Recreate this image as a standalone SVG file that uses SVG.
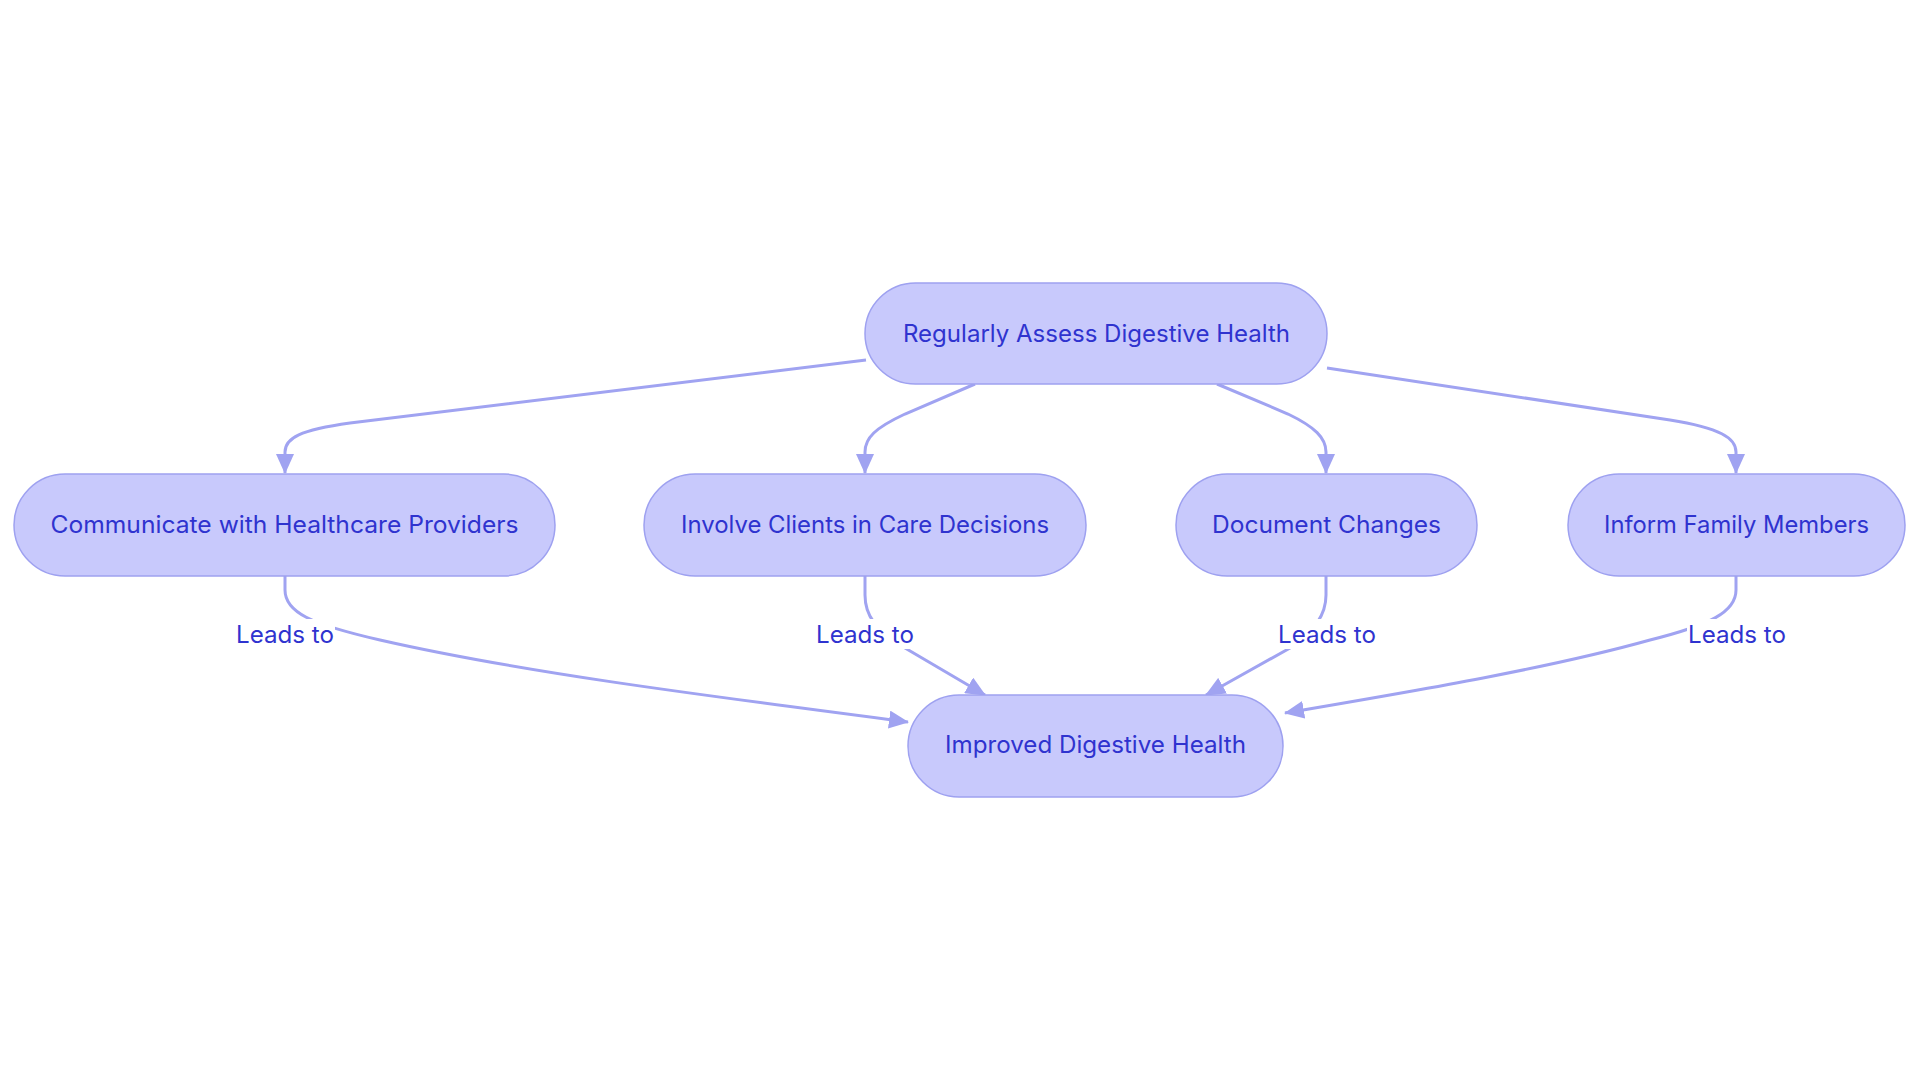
<svg xmlns="http://www.w3.org/2000/svg" width="1920" height="1083" viewBox="0 0 1920 1083">
<style>
.node rect{fill:#c8c9fc;stroke:#9ea1f0;stroke-width:1.5}
.node text,.lbl text{font-family:Inter,"Noto Sans","Liberation Sans",sans-serif;font-size:24px;fill:#2f33cf;text-anchor:middle}
.edge{fill:none;stroke:#a0a3f1;stroke-width:3}
.lbl rect{fill:#ffffff}
</style>
<defs>
<marker id="arr" markerUnits="userSpaceOnUse" markerWidth="20" markerHeight="18" refX="19" refY="9" orient="auto">
<path d="M0,0 L20,9 L0,18 z" fill="#a0a3f1"/>
</marker>
</defs>
<rect width="1920" height="1083" fill="#ffffff"/>
<g id="connectors">
<path class="edge" d="M866,360 L350,423 C300,430 285,438 285,452 L285,473" marker-end="url(#arr)"/>
<path class="edge" d="M975,384 L905,414 C875,428 865,438 865,452 L865,473" marker-end="url(#arr)"/>
<path class="edge" d="M1217,384 L1288,414 C1315,427 1326,438 1326,452 L1326,473" marker-end="url(#arr)"/>
<path class="edge" d="M1327,368 L1670,420 C1720,428 1736,438 1736,452 L1736,473" marker-end="url(#arr)"/>
<path class="edge" d="M285,576 L285,590 C285,612 310,624 380,640 C520,672 700,695 908,722" marker-end="url(#arr)"/>
<path class="edge" d="M865,576 L865,595 C865,615 875,630 905,648 L985,695" marker-end="url(#arr)"/>
<path class="edge" d="M1326,576 L1326,595 C1326,615 1315,630 1290,648 L1206,695" marker-end="url(#arr)"/>
<path class="edge" d="M1736,576 L1736,590 C1736,612 1710,625 1650,640 C1550,668 1420,690 1285,713" marker-end="url(#arr)"/>
<g class="lbl">
<rect x="235" y="619" width="100" height="30"/><text x="285" y="643" textLength="98" lengthAdjust="spacingAndGlyphs">Leads to</text>
<rect x="815" y="619" width="100" height="30"/><text x="865" y="643" textLength="98" lengthAdjust="spacingAndGlyphs">Leads to</text>
<rect x="1277" y="619" width="100" height="30"/><text x="1327" y="643" textLength="98" lengthAdjust="spacingAndGlyphs">Leads to</text>
<rect x="1687" y="619" width="100" height="30"/><text x="1737" y="643" textLength="98" lengthAdjust="spacingAndGlyphs">Leads to</text>
</g>
</g>
<g id="n-assess" class="node"><rect x="865" y="283" width="462" height="101" rx="50.5"/><text x="1096.5" y="342" textLength="387" lengthAdjust="spacingAndGlyphs">Regularly Assess Digestive Health</text></g>
<g id="n-communicate" class="node"><rect x="14" y="474" width="541" height="102" rx="51"/><text x="284.5" y="533" textLength="468" lengthAdjust="spacingAndGlyphs">Communicate with Healthcare Providers</text></g>
<g id="n-involve" class="node"><rect x="644" y="474" width="442" height="102" rx="51"/><text x="865" y="533" textLength="368" lengthAdjust="spacingAndGlyphs">Involve Clients in Care Decisions</text></g>
<g id="n-document" class="node"><rect x="1176" y="474" width="301" height="102" rx="51"/><text x="1326.5" y="533" textLength="229" lengthAdjust="spacingAndGlyphs">Document Changes</text></g>
<g id="n-inform" class="node"><rect x="1568" y="474" width="337" height="102" rx="51"/><text x="1736.5" y="533" textLength="265" lengthAdjust="spacingAndGlyphs">Inform Family Members</text></g>
<g id="n-improved" class="node"><rect x="908" y="695" width="375" height="102" rx="51"/><text x="1095.5" y="753" textLength="301" lengthAdjust="spacingAndGlyphs">Improved Digestive Health</text></g>
</svg>
